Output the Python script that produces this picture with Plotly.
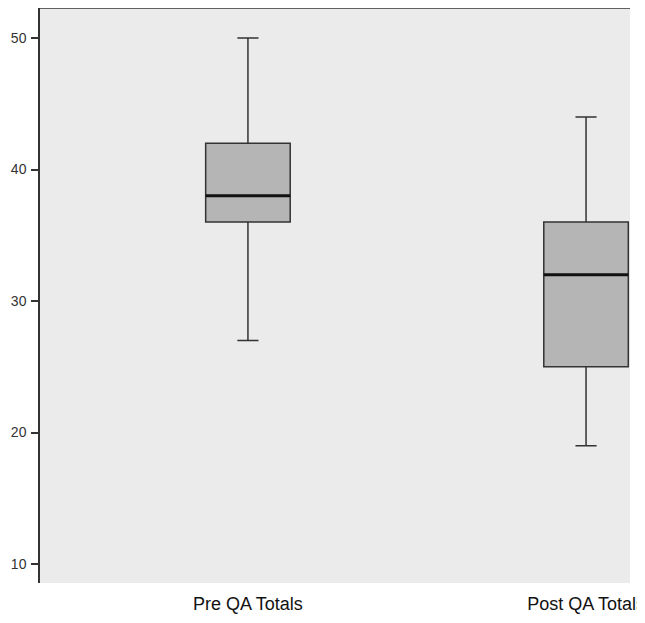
import plotly.graph_objects as go

categories = ["Pre QA Totals", "Post QA Totals"]
lower_whisker = [27, 19]
q1_values = [36, 25]
medians = [38, 32]
q3_values = [42, 36]
upper_whisker = [50, 44]
y_ticks = [10, 20, 30, 40, 50]

fig = go.Figure()
fig.add_trace(go.Box(
    x=categories,
    q1=q1_values,
    median=medians,
    q3=q3_values,
    lowerfence=lower_whisker,
    upperfence=upper_whisker,
    width=0.25,
    whiskerwidth=0.25,
    fillcolor="#b5b5b5",
    line=dict(color="#333333", width=1.5),
    boxpoints=False,
    hoverinfo="skip",
    showlegend=False,
))
# thicker median lines: a collapsed box at the median values
fig.add_trace(go.Box(
    x=categories,
    q1=medians, median=medians, q3=medians,
    lowerfence=medians, upperfence=medians,
    width=0.25,
    whiskerwidth=0,
    fillcolor="rgba(0,0,0,0)",
    line=dict(color="#111111", width=3),
    boxpoints=False,
    hoverinfo="skip",
    showlegend=False,
))

fig.update_layout(
    width=645, height=615,
    boxmode="overlay",
    margin=dict(l=32, r=23, t=0, b=40, pad=0),
    paper_bgcolor="white",
    plot_bgcolor="#ebebeb",
    font=dict(family="Liberation Sans, Arial, sans-serif", color="#222222"),
    xaxis=dict(
        type="category",
        range=[-0.615, 1.13],
        showgrid=False, showline=False, ticks="",
        tickfont=dict(size=18, color="#111111"),
        zeroline=False,
        ticklabelstandoff=8,
    ),
    yaxis=dict(
        range=[8.56, 52.28],
        tickvals=y_ticks,
        showgrid=False, zeroline=False,
        showline=True, linecolor="#333333", linewidth=1.5,
        ticks="outside", ticklen=7, tickwidth=1.5, tickcolor="#333333",
        tickfont=dict(size=14, color="#333333"),
        ticklabelstandoff=2,
    ),
    shapes=[dict(type="line", xref="paper", yref="paper", x0=0, x1=1, y0=1, y1=1,
                 line=dict(color="#333333", width=1.5))],
)
fig.write_html("out.html")
